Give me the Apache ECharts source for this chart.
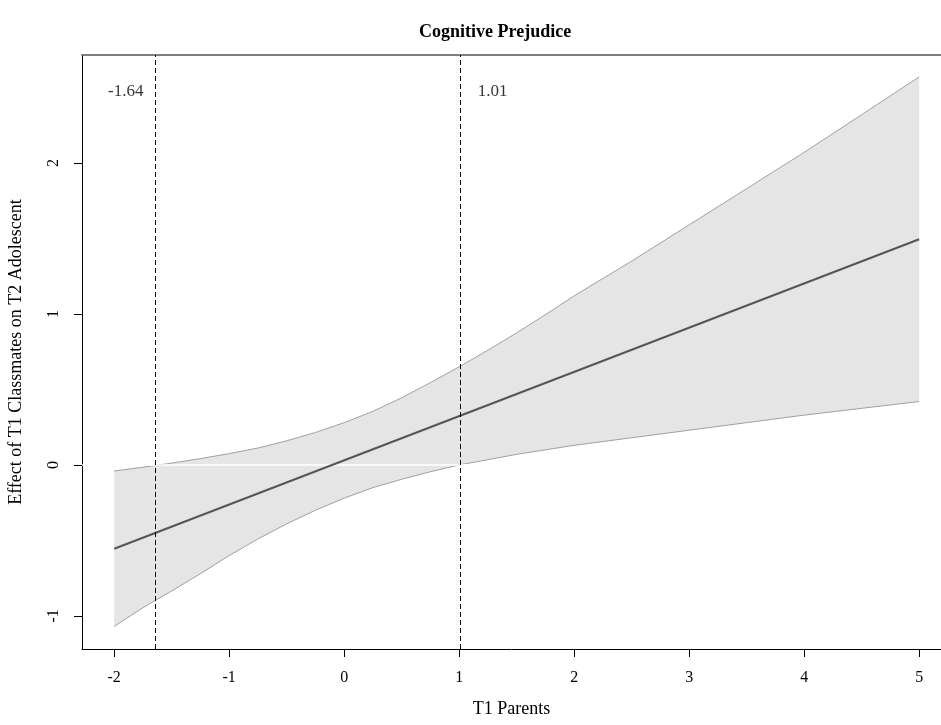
<!DOCTYPE html>
<html>
<head>
<meta charset="utf-8">
<script src="https://cdn.jsdelivr.net/npm/echarts@6/dist/echarts.min.js"></script>
<style>
  html, body { margin: 0; padding: 0; background: #fff; }
  #chart { width: 941px; height: 725px; }
</style>
</head>
<body>
<div id="chart"></div>
<script>
// values
var xTicks = [-2, -1, 0, 1, 2, 3, 4, 5];
var yTicks = [-1, 0, 1, 2];
var bandX = [-2, -1.75, -1.5, -1.25, -1, -0.75, -0.5, -0.25, 0, 0.25, 0.5, 0.75, 1, 1.25, 1.5, 1.75, 2, 2.5, 3, 3.5, 4, 4.5, 5];
var bandUpper = [-0.04, -0.015, 0.012, 0.042, 0.075, 0.112, 0.16, 0.215, 0.28, 0.355, 0.445, 0.545, 0.65, 0.76, 0.875, 0.995, 1.12, 1.35, 1.59, 1.83, 2.07, 2.32, 2.57];
var bandLower = [-1.07, -0.945, -0.835, -0.72, -0.60, -0.49, -0.39, -0.30, -0.22, -0.15, -0.095, -0.045, 0.0, 0.035, 0.07, 0.10, 0.13, 0.18, 0.23, 0.28, 0.33, 0.375, 0.42];
var lineX = [-2, 5];
var lineY = [-0.555, 1.495];
var cutX = [-1.64, 1.01];
var cutText = ['-1.64', '1.01'];
var cutTextPos = [[-1.9, 2.47], [1.29, 2.47]];

var serif = 'Liberation Serif';

function zip(xs, ys) {
    return xs.map(function (x, i) { return [x, ys[i]]; });
}

var chart = echarts.init(document.getElementById('chart'));

var option = {
    backgroundColor: '#fff',
    animation: false,
    graphic: [{
        type: 'text',
        left: 519 - 100, top: 23,
        style: {
            text: 'Cognitive Prejudice', x: 100, textAlign: 'center',
            font: 'bold 18px "Liberation Serif"', fill: '#000'
        }
    }],
    grid: { left: 82, right: 0, top: 55, bottom: 76, outerBoundsMode: 'none', containLabel: false },
    xAxis: [{
        type: 'value', min: -2.28, max: 5.19,
        name: 'T1 Parents', nameLocation: 'middle', nameGap: 51,
        nameTextStyle: { fontFamily: serif, fontSize: 18, color: '#000' },
        axisLine: { show: true, onZero: false, lineStyle: { color: '#000', width: 1 } },
        axisTick: { show: true, length: 8, customValues: xTicks, lineStyle: { color: '#000' } },
        axisLabel: { customValues: xTicks, margin: 21, fontFamily: serif, fontSize: 16, color: '#000' },
        splitLine: { show: false }
    }, {
        // top edge of the box
        type: 'value', position: 'top', min: -2.28, max: 5.19,
        axisLine: { show: true, onZero: false, lineStyle: { color: '#555', width: 1.5 } },
        axisTick: { show: false }, axisLabel: { show: false }, splitLine: { show: false }
    }],
    yAxis: {
        type: 'value', min: -1.219, max: 2.715,
        name: 'Effect of T1 Classmates on T2 Adolescent', nameLocation: 'middle', nameGap: 57,
        nameTextStyle: { fontFamily: serif, fontSize: 18, color: '#000' },
        axisLine: { show: true, onZero: false, lineStyle: { color: '#000', width: 1 } },
        axisTick: { show: true, length: 8, customValues: yTicks, lineStyle: { color: '#000' } },
        axisLabel: { customValues: yTicks, rotate: 90, margin: 20, fontFamily: serif, fontSize: 16, color: '#000' },
        splitLine: { show: false }
    },
    series: [
        {
            // confidence band
            type: 'custom',
            data: [[bandX[0], bandUpper[0]]],
            silent: true,
            z: 1,
            renderItem: function (params, api) {
                var pts = [];
                for (var i = 0; i < bandX.length; i++) pts.push(api.coord([bandX[i], bandUpper[i]]));
                for (var j = bandX.length - 1; j >= 0; j--) pts.push(api.coord([bandX[j], bandLower[j]]));
                return { type: 'polygon', shape: { points: pts }, style: { fill: '#e5e5e5', stroke: null } };
            }
        },
        {
            type: 'line', data: zip(bandX, bandUpper), showSymbol: false, z: 2,
            lineStyle: { color: '#a0a0a0', width: 1 }
        },
        {
            type: 'line', data: zip(bandX, bandLower), showSymbol: false, z: 2,
            lineStyle: { color: '#a0a0a0', width: 1 }
        },
        {
            // white zero line
            type: 'line', data: [[-2.28, 0], [5.19, 0]], showSymbol: false, z: 3,
            lineStyle: { color: '#fff', width: 1.5 }
        },
        {
            type: 'line', data: zip(lineX, lineY), showSymbol: false, z: 4,
            lineStyle: { color: '#555', width: 2 },
            markLine: {
                silent: true, symbol: 'none',
                label: { show: false },
                lineStyle: { color: '#000', width: 1, type: [5, 3] },
                data: cutX.map(function (v) { return { xAxis: v }; })
            }
        },
        {
            type: 'scatter', data: cutTextPos, symbolSize: 0, z: 5,
            label: {
                show: true, position: 'inside',
                formatter: function (p) { return cutText[p.dataIndex]; },
                fontFamily: serif, fontSize: 17, color: '#000'
            }
        }
    ]
};

chart.setOption(option);
</script>
</body>
</html>
